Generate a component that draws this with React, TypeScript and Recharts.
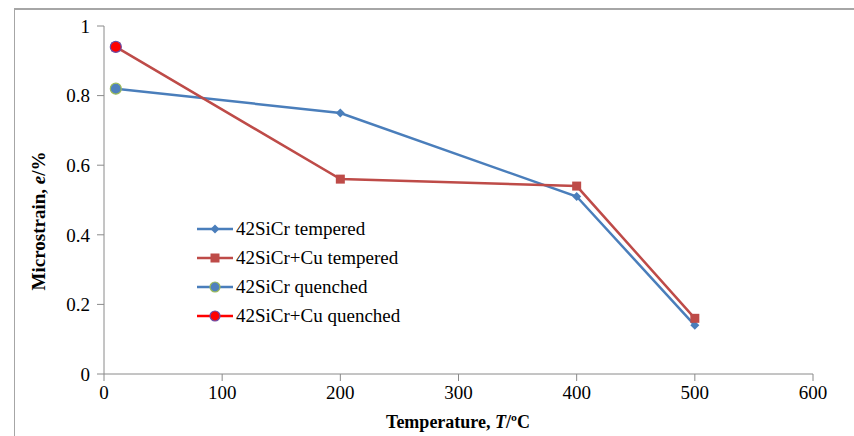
import React from "react";
import { LineChart, Line, XAxis, YAxis } from "recharts";

// values
const temps = [10, 200, 400, 500];
const siCrTempered = [0.82, 0.75, 0.51, 0.14];
const siCrCuTempered = [0.94, 0.56, 0.54, 0.16];
const quenchTemp = [10];
const siCrQuenched = [0.82];
const siCrCuQuenched = [0.94];
const xTicks = [0, 100, 200, 300, 400, 500, 600];
const yTicks = [0, 0.2, 0.4, 0.6, 0.8, 1];

const toRows = (xs: number[], ys: number[]) => xs.map((t, i) => ({ t, v: ys[i] }));

const BLUE = "#4A7EBB";
const RED = "#BE4B48";
const AXIS = "#8A8A8A";
const FONT = "'Liberation Serif', 'Times New Roman', serif";

const Diamond = (props: any) => {
  const { cx, cy, fill } = props;
  if (cx == null || cy == null) return null;
  const r = 4.5;
  return <path d={`M${cx},${cy - r}L${cx + r},${cy}L${cx},${cy + r}L${cx - r},${cy}Z`} fill={fill} />;
};

const Square = (props: any) => {
  const { cx, cy, fill } = props;
  if (cx == null || cy == null) return null;
  const s = 4.5;
  return <rect x={cx - s} y={cy - s} width={s * 2} height={s * 2} fill={fill} />;
};

const Circle = (stroke: string, fill: string) => (props: any) => {
  const { cx, cy } = props;
  if (cx == null || cy == null) return null;
  return <circle cx={cx} cy={cy} r={5.5} fill={fill} stroke={stroke} strokeWidth={1.2} />;
};

const legendItems = [
  { name: "42SiCr tempered", line: BLUE, mark: "diamond", fill: BLUE, stroke: BLUE },
  { name: "42SiCr+Cu tempered", line: RED, mark: "square", fill: RED, stroke: RED },
  { name: "42SiCr quenched", line: BLUE, mark: "circle", fill: "#4F81BD", stroke: "#9BBB59" },
  { name: "42SiCr+Cu quenched", line: "#FF0000", mark: "circle", fill: "#FF0000", stroke: "#6A4CA5" },
];

function LegendBox() {
  return (
    <div style={{ position: "absolute", left: 195, top: 214, fontFamily: FONT, fontSize: 19, color: "#000", lineHeight: 1 }}>
      {legendItems.map((it) => (
        <div key={it.name} style={{ display: "flex", alignItems: "center", height: 29 }}>
          <svg width={40} height={14}>
            <line x1={2} y1={7} x2={38} y2={7} stroke={it.line} strokeWidth={2.5} />
            {it.mark === "diamond" && <path d="M20,2.5L24.5,7L20,11.5L15.5,7Z" fill={it.fill} />}
            {it.mark === "square" && <rect x={15.5} y={2.5} width={9} height={9} fill={it.fill} />}
            {it.mark === "circle" && <circle cx={20} cy={7} r={5} fill={it.fill} stroke={it.stroke} strokeWidth={1.2} />}
          </svg>
          <span style={{ marginLeft: 1 }}>{it.name}</span>
        </div>
      ))}
    </div>
  );
}

const YLabel = () => (
  <text x={38} y={221} transform="rotate(-90 38 221)" textAnchor="middle" dominantBaseline="central"
    fontFamily={FONT} fontWeight="bold" fontSize={19} fill="#000">
    Microstrain, <tspan fontStyle="italic">e</tspan>/%
  </text>
);

const XLabel = () => (
  <text x={458} y={422} textAnchor="middle" dominantBaseline="central"
    fontFamily={FONT} fontWeight="bold" fontSize={18} fill="#000">
    Temperature, <tspan fontStyle="italic">T</tspan>/ºC
  </text>
);

export default function App() {
  return (
    <div style={{ position: "absolute", left: 0, top: 0, width: 854, height: 436, background: "#fff" }}>
      <div style={{ position: "absolute", left: 14, top: 8, right: 0, bottom: 0, borderTop: "2px solid #A6A6A6", borderLeft: "1px solid #A6A6A6" }} />
      <LineChart width={854} height={436} margin={{ top: 26, right: 41, bottom: 0, left: 44 }}>
        <XAxis dataKey="t" type="number" domain={[0, 600]} ticks={xTicks} allowDuplicatedCategory={false}
          stroke={AXIS} tickSize={7} height={62} interval={0}
          tick={{ fill: "#000", fontSize: 19, fontFamily: FONT, dy: 3 }} label={<XLabel />} />
        <YAxis type="number" domain={[0, 1]} ticks={yTicks} stroke={AXIS} tickSize={7} width={60} interval={0}
          tick={{ fill: "#000", fontSize: 19, fontFamily: FONT, dx: -5 }} label={<YLabel />} />
        <Line data={toRows(temps, siCrTempered)} dataKey="v" name="42SiCr tempered" stroke={BLUE} strokeWidth={2.5}
          fill={BLUE} dot={<Diamond />} isAnimationActive={false} />
        <Line data={toRows(temps, siCrCuTempered)} dataKey="v" name="42SiCr+Cu tempered" stroke={RED} strokeWidth={2.5}
          fill={RED} dot={<Square />} isAnimationActive={false} />
        <Line data={toRows(quenchTemp, siCrQuenched)} dataKey="v" name="42SiCr quenched" stroke={BLUE}
          dot={Circle("#9BBB59", "#4F81BD")} isAnimationActive={false} />
        <Line data={toRows(quenchTemp, siCrCuQuenched)} dataKey="v" name="42SiCr+Cu quenched" stroke="#FF0000"
          dot={Circle("#6A4CA5", "#FF0000")} isAnimationActive={false} />
      </LineChart>
      <LegendBox />
    </div>
  );
}
